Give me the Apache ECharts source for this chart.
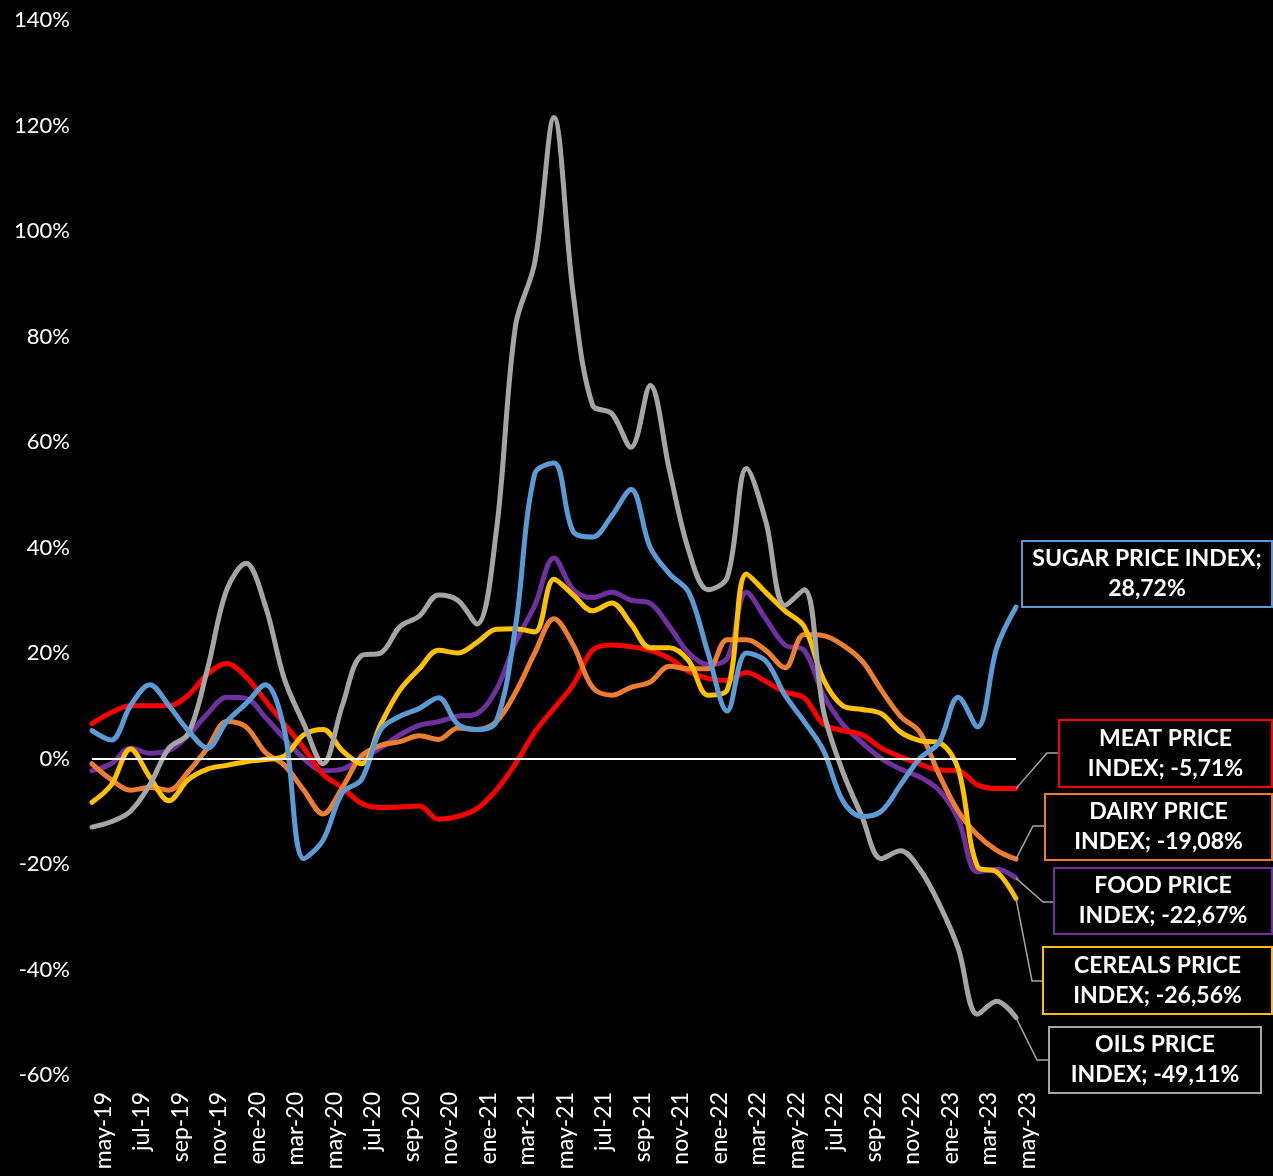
<!DOCTYPE html>
<html>
<head>
<meta charset="utf-8">
<script src="https://cdn.jsdelivr.net/npm/echarts@6/dist/echarts.min.js"></script>
<style>
html, body { margin: 0; padding: 0; background: #000; }
#chart { width: 1273px; height: 1176px; }
</style>
</head>
<body>
<div id="chart"></div>
<script>
var months = ['may-19','jun-19','jul-19','ago-19','sep-19','oct-19','nov-19','dic-19',
    'ene-20','feb-20','mar-20','abr-20','may-20','jun-20','jul-20','ago-20','sep-20','oct-20','nov-20','dic-20',
    'ene-21','feb-21','mar-21','abr-21','may-21','jun-21','jul-21','ago-21','sep-21','oct-21','nov-21','dic-21',
    'ene-22','feb-22','mar-22','abr-22','may-22','jun-22','jul-22','ago-22','sep-22','oct-22','nov-22','dic-22',
    'ene-23','feb-23','mar-23','abr-23','may-23'];

// year-on-year change, %
var food = [-2.3, -1, 2, 1, 1.5, 4.4, 8.5, 11.6, 11.4, 7.8,
    3.8, 0, -2.3, -2, 0, 2, 4.5, 6.3, 7, 8,
    8.5, 13, 22, 29, 38, 32, 30.5, 31.5, 30, 29.4,
    25, 20, 17.8, 19, 31.5, 26.5, 21.5, 20.5, 12, 6.5,
    3, 0, -2, -3.5, -6, -11.5, -21.5, -21, -22.67];
var meat = [6.6, 8.7, 10, 10, 10, 12, 16, 18, 15.5, 11,
    6.5, 2, -3, -5.5, -8.5, -9.3, -9.2, -9, -11.5, -11,
    -9.5, -6, -1, 5, 9.5, 14, 20.5, 21.5, 21.2, 20.5,
    19, 16.5, 15.2, 14.8, 16.3, 14.6, 12.6, 11.5, 6.5, 5.3,
    4.5, 2, 0.3, -1, -2.2, -2.3, -5, -5.7, -5.71];
var dairy = [-1, -4, -6, -5.5, -6, -2.5, 2, 7, 6, 1.2,
    -1.3, -6, -10.5, -5.5, 0.5, 2.5, 3.2, 4.3, 3.6, 5.8,
    5.5, 7, 12.5, 20, 26.5, 21.5, 13.5, 12, 13.5, 14.5,
    17.5, 17, 17, 22.5, 22.5, 20.5, 17.2, 23.5, 23.3, 21.5,
    18.5, 13, 8, 5, -3, -10, -14.5, -17.4, -19.08];
var cereals = [-8.3, -5, 1.8, -3.5, -8, -4, -2, -1.3, -0.6, -0.2,
    0.5, 4.5, 5.5, 1.5, -1, 6.5, 13, 17, 20.5, 20,
    22, 24.5, 24.6, 24, 34, 31, 28, 29.5, 25.5, 21,
    21, 18.5, 12, 13, 35, 31.5, 28, 25, 15, 10,
    9.3, 8.5, 5, 3.4, 3, -2, -20.5, -21.5, -26.56];
var oils = [-13, -12, -10, -5, 2, 4.7, 17, 32, 37, 29,
    15, 6.6, -1, 10, 19.5, 20, 25, 27, 31, 30,
    25.5, 43, 82, 94, 121.5, 88, 67, 65.4, 59, 70.7,
    54.6, 39.4, 32, 34.3, 55, 45, 29, 32, 9, -2.5,
    -11, -19, -17.5, -21, -27.5, -36, -48.5, -46, -49.11];
var sugar = [5.3, 3.5, 10, 14, 10, 5.3, 2, 7, 10.4, 14,
    5.3, -19, -15.5, -6.5, -4, 5.5, 8, 9.5, 11.5, 6.5,
    5.5, 7, 25, 54, 56, 43, 42, 46, 51, 40,
    35, 31.5, 20, 9, 20, 18.5, 12, 7, 1.5, -8,
    -11, -10, -5, 0, 3, 11.6, 6, 21, 28.72];

var font = "'Century Gothic', Lato, sans-serif";

// drawing order: later ones on top
var seriesList = [
    { name: 'FOOD PRICE INDEX', data: food, color: '#7030A0' },
    { name: 'MEAT PRICE INDEX', data: meat, color: '#FF0000' },
    { name: 'DAIRY PRICE INDEX', data: dairy, color: '#ED7D31' },
    { name: 'CEREALS PRICE INDEX', data: cereals, color: '#FFC000' },
    { name: 'OILS PRICE INDEX', data: oils, color: '#A5A5A5' },
    { name: 'SUGAR PRICE INDEX', data: sugar, color: '#5B9BD5' }
];

var series = seriesList.map(function (s, i) {
    var item = {
        name: s.name,
        type: 'line',
        data: s.data,
        smooth: 0.35,
        showSymbol: false,
        symbol: 'none',
        lineStyle: { color: s.color, width: 5, cap: 'round', join: 'round' },
        itemStyle: { color: s.color }
    };
    if (i == 0) {
        item.markLine = {
            silent: true,
            symbol: 'none',
            label: { show: false },
            lineStyle: { color: '#fff', width: 2, type: 'solid' },
            data: [{ yAxis: 0 }]
        };
    }
    return item;
});

var chart = echarts.init(document.getElementById('chart'));

var option = {
    backgroundColor: '#000',
    animation: false,
    grid: {
        left: 92,
        right: 257,
        top: 20,
        bottom: 101,
        containLabel: false,
        outerBoundsMode: 'none'
    },
    xAxis: {
        type: 'category',
        boundaryGap: false,
        data: months,
        axisLine: { show: false },
        axisTick: { show: false },
        splitLine: { show: false },
        axisLabel: {
            interval: 1,
            rotate: 90,
            margin: 17,
            verticalAlign: 'top',
            color: '#fff',
            fontSize: 23,
            fontFamily: font
        }
    },
    yAxis: {
        type: 'value',
        min: -60,
        max: 140,
        interval: 20,
        axisLine: { show: false },
        axisTick: { show: false },
        splitLine: { show: false },
        axisLabel: {
            formatter: '{value}%',
            margin: 22,
            color: '#fff',
            fontSize: 22,
            fontFamily: font
        }
    },
    series: series
};

chart.setOption(option);

// data labels in boxes at the right
var boxes = [
    { name: 'SUGAR PRICE INDEX', x: 1022, y: 541, w: 250, h: 66, color: '#5B9BD5', line1: 'SUGAR PRICE INDEX;', line2: '', elbow: null },
    { name: 'MEAT PRICE INDEX', x: 1059, y: 720, w: 213, h: 67, color: '#FF0000', line1: 'MEAT PRICE', line2: 'INDEX; ', elbow: [1047, 753] },
    { name: 'DAIRY PRICE INDEX', x: 1045, y: 794, w: 227, h: 66, color: '#ED7D31', line1: 'DAIRY PRICE', line2: 'INDEX; ', elbow: [1033, 826] },
    { name: 'FOOD PRICE INDEX', x: 1054, y: 868, w: 218, h: 66, color: '#7030A0', line1: 'FOOD PRICE', line2: 'INDEX; ', elbow: [1043, 902] },
    { name: 'CEREALS PRICE INDEX', x: 1043, y: 947, w: 229, h: 67, color: '#FFC000', line1: 'CEREALS PRICE', line2: 'INDEX; ', elbow: [1032, 981] },
    { name: 'OILS PRICE INDEX', x: 1049, y: 1027, w: 212, h: 66, color: '#A5A5A5', line1: 'OILS PRICE', line2: 'INDEX; ', elbow: [1037, 1060] }
];

var graphics = [];
boxes.forEach(function (b) {
    var s = seriesList.filter(function (d) { return d.name == b.name; })[0];
    var last = s.data.length - 1;
    var value = s.data[last];
    var pt = chart.convertToPixel({ gridIndex: 0 }, [last, value]);
    var valueText = value.toFixed(2).replace('.', ',') + '%';

    if (b.elbow) {
        graphics.push({
            type: 'polyline',
            z: 50,
            shape: { points: [[pt[0], pt[1]], b.elbow, [b.x, b.elbow[1]]] },
            style: { stroke: '#A5A5A5', lineWidth: 1.5, fill: null }
        });
    }
    graphics.push({
        type: 'rect',
        z: 60,
        shape: { x: b.x, y: b.y, width: b.w, height: b.h },
        style: { fill: '#000', stroke: b.color, lineWidth: 2 }
    });
    graphics.push({
        type: 'text',
        z: 70,
        x: b.x + b.w / 2,
        y: b.y + b.h / 2,
        style: {
            text: b.line1 + '\n' + b.line2 + valueText,
            fill: '#fff',
            fontSize: 23,
            fontWeight: 'bold',
            fontFamily: font,
            lineHeight: 30,
            align: 'center',
            verticalAlign: 'middle'
        }
    });
});

chart.setOption({ graphic: graphics });
</script>
</body>
</html>
